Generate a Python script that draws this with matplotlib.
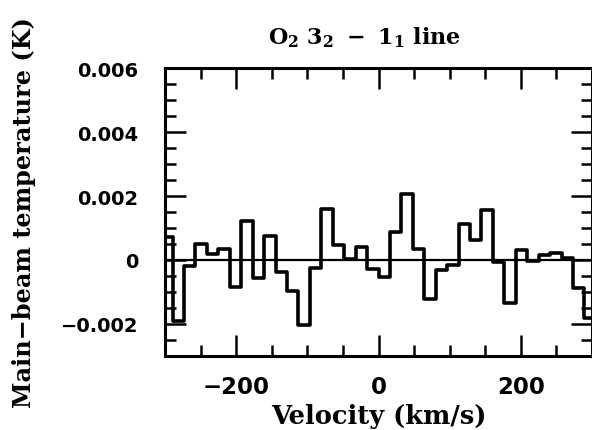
import matplotlib
matplotlib.use("Agg")
import matplotlib.pyplot as plt
from matplotlib.ticker import MultipleLocator, FixedLocator, FixedFormatter

# Channel centre velocities (km/s)
velocity = [-297.48, -281.40, -265.32, -249.24, -233.16, -217.08, -201.00, -184.92,
            -168.84, -152.76, -136.68, -120.60, -104.52, -88.44, -72.36, -56.28,
            -40.20, -24.12, -8.04, 8.04, 24.12, 40.20, 56.28, 72.36, 88.44,
            104.52, 120.60, 136.68, 152.76, 168.84, 184.92, 201.00, 217.08,
            233.16, 249.24, 265.32, 281.40, 297.48]

# Main-beam temperature (K)
temperature = [0.00072, -0.00190, -0.00020, 0.00050, 0.00020, 0.00033, -0.00083,
               0.00121, -0.00057, 0.00075, -0.00036, -0.00098, -0.00202, -0.00026,
               0.00158, 0.00047, 0.00003, 0.00040, -0.00028, -0.00054, 0.00088,
               0.00205, 0.00034, -0.00121, -0.00031, -0.00017, 0.00112, 0.00064,
               0.00156, -0.00007, -0.00133, 0.00031, -0.00003, 0.00016, 0.00023,
               0.00007, -0.00086, -0.00180]

ytick_values = [-0.002, 0.0, 0.002, 0.004, 0.006]
ytick_labels = ["\u22120.002", "0", "0.002", "0.004", "0.006"]
xtick_values = [-200, 0, 200]
xtick_labels = ["\u2212200", "0", "200"]

plt.rcParams['mathtext.fontset'] = 'dejavuserif'
plt.rcParams['font.weight'] = 'bold'
plt.rcParams['font.family'] = ['DejaVu Sans']

W, H = 592, 431
fig = plt.figure(figsize=(W / 100, H / 100), dpi=100)
left, right, top, bottom = 165, 592, 69, 357
ax = fig.add_axes([left / W, (H - bottom) / H, (right - left) / W, (bottom - top) / H])

ax.set_xlim(-300, 300)
ax.set_ylim(-0.003, 0.006)

ax.axhline(0, color='black', lw=1.6, zorder=2)
ax.step(velocity, temperature, where='mid', color='black', lw=2.6, zorder=3)

for s in ax.spines.values():
    s.set_linewidth(2.2)

ax.xaxis.set_major_locator(FixedLocator(xtick_values))
ax.xaxis.set_major_formatter(FixedFormatter(xtick_labels))
ax.xaxis.set_minor_locator(MultipleLocator(50))
ax.yaxis.set_major_locator(FixedLocator(ytick_values))
ax.yaxis.set_major_formatter(FixedFormatter(ytick_labels))
ax.yaxis.set_minor_locator(MultipleLocator(0.0005))

ax.tick_params(which='both', direction='in', top=True, right=True, width=1.8)
ax.tick_params(which='major', length=15)
ax.tick_params(which='minor', length=8)
ax.tick_params(axis='x', which='major', pad=14, labelsize=16.5)
ax.tick_params(axis='y', which='major', pad=19, labelsize=14)

ax.set_xlabel("Velocity (km/s)", fontsize=18.5, fontweight='bold', family='DejaVu Serif', labelpad=3)
ax.set_ylabel("Main\u2212beam temperature (K)", fontsize=17.3, fontweight='bold', family='DejaVu Serif', labelpad=18)

fig.text(364 / W, (H - 38) / H, r'$\mathbf{O_2\ 3_2\ -\ 1_1\ line}$', fontsize=16,
         ha='center', va='center')

fig.savefig("out.png", dpi=100)
